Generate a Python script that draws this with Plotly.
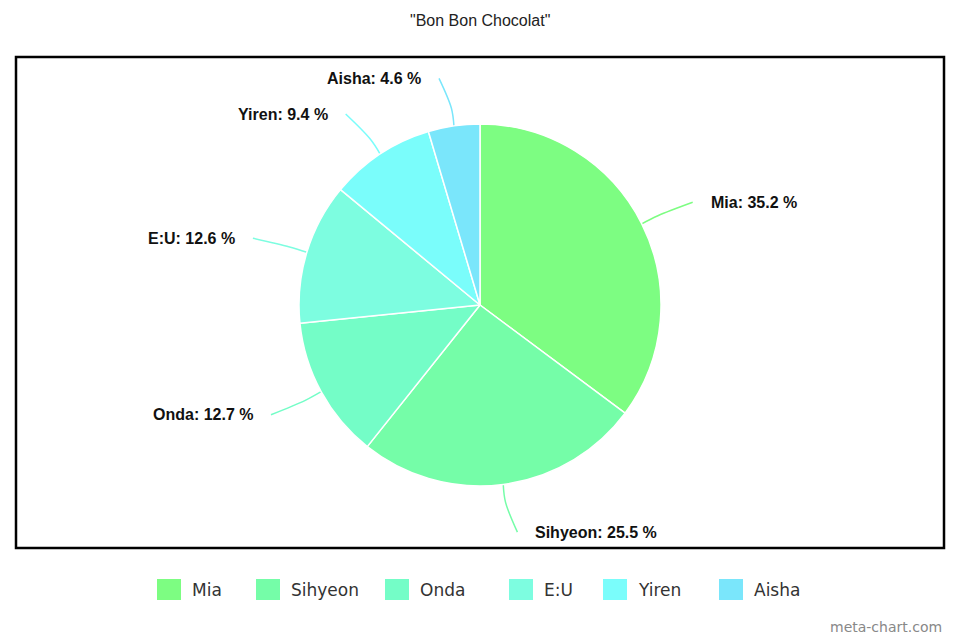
import math
import plotly.graph_objects as go

# ---- data ----
labels = ["Mia", "Sihyeon", "Onda", "E:U", "Yiren", "Aisha"]
values = [35.2, 25.5, 12.7, 12.6, 9.4, 4.6]
colors = ["#7dfd82", "#75fda8", "#74fdc7", "#7dfde0", "#7afdfb", "#7ae6fb"]
title_text = '"Bon Bon Chocolat"'

# ---- layout constants (screen pixels) ----
W, H = 960, 640
OFF = 8  # page body margin
CX, CY, R = 480, 305, 181
R_LABEL = 229
legend_x = [157, 256, 385, 509, 603, 719]

fig = go.Figure()

fig.add_trace(go.Pie(
    labels=labels, values=values, sort=False, direction="clockwise", rotation=0,
    marker=dict(colors=colors, line=dict(color="white", width=1.5)),
    textinfo="none", showlegend=False, hoverinfo="label+percent",
    domain=dict(x=[(CX - R - OFF) / W, (CX + R - OFF) / W],
                y=[1 - (CY + R - OFF) / H, 1 - (CY - R - OFF) / H]),
))

total = sum(values)
annotations = []
cum = 0.0
for lab, val, col in zip(labels, values, colors):
    mid = (cum + val / 2) / total * 2 * math.pi
    cum += val
    s, c = math.sin(mid), math.cos(mid)
    sign = 1 if s >= 0 else -1
    p0 = (CX + R * s, CY - R * c)
    p1 = (CX + (R + 18) * s, CY - (R + 18) * c)
    p2 = (CX + R_LABEL * s + sign * 8, CY - R_LABEL * c)
    fig.add_trace(go.Scatter(
        x=[p0[0], p1[0], p2[0]], y=[p0[1], p1[1], p2[1]], mode="lines",
        line=dict(color=col, width=1.5, shape="spline"), showlegend=False, hoverinfo="skip",
    ))
    pct = val / total * 100
    annotations.append(dict(
        x=p2[0] + sign * 16, y=p2[1], xref="x", yref="y",
        text=f"<b>{lab}: {pct:.1f} %</b>", showarrow=False,
        xanchor="left" if sign > 0 else "right", yanchor="middle",
        font=dict(family="Liberation Sans, Arial", size=16, color="#111"),
    ))

shapes = [dict(type="rect", xref="x", yref="y", x0=16, x1=944, y0=57, y1=548,
               line=dict(color="black", width=2.5), fillcolor="rgba(0,0,0,0)", layer="below")]

# custom legend
for lx, lab, col in zip(legend_x, labels, colors):
    shapes.append(dict(type="rect", xref="x", yref="y", x0=lx, x1=lx + 24, y0=579, y1=600,
                       line=dict(width=0), fillcolor=col))
    annotations.append(dict(x=lx + 33, y=590, xref="x", yref="y", text=lab, showarrow=False,
                            xanchor="left", yanchor="middle",
                            font=dict(family="DejaVu Sans", size=17, color="#333")))

annotations.append(dict(x=480, y=20, xref="x", yref="y", text=title_text, showarrow=False,
                        xanchor="center", yanchor="middle",
                        font=dict(family="Liberation Sans, Arial", size=16, color="#222")))
annotations.append(dict(x=944, y=627, xref="x", yref="y", text="meta-chart.com", showarrow=False,
                        xanchor="right", yanchor="middle",
                        font=dict(family="DejaVu Sans", size=14, color="#888")))

fig.update_layout(
    width=W, height=H, autosize=False,
    margin=dict(l=0, r=0, t=0, b=0),
    paper_bgcolor="white", plot_bgcolor="rgba(0,0,0,0)",
    xaxis=dict(range=[OFF, W + OFF], visible=False, fixedrange=True, domain=[0, 1]),
    yaxis=dict(range=[H + OFF, OFF], visible=False, fixedrange=True, domain=[0, 1]),
    shapes=shapes, annotations=annotations, showlegend=False,
)

fig.write_html("out.html")
